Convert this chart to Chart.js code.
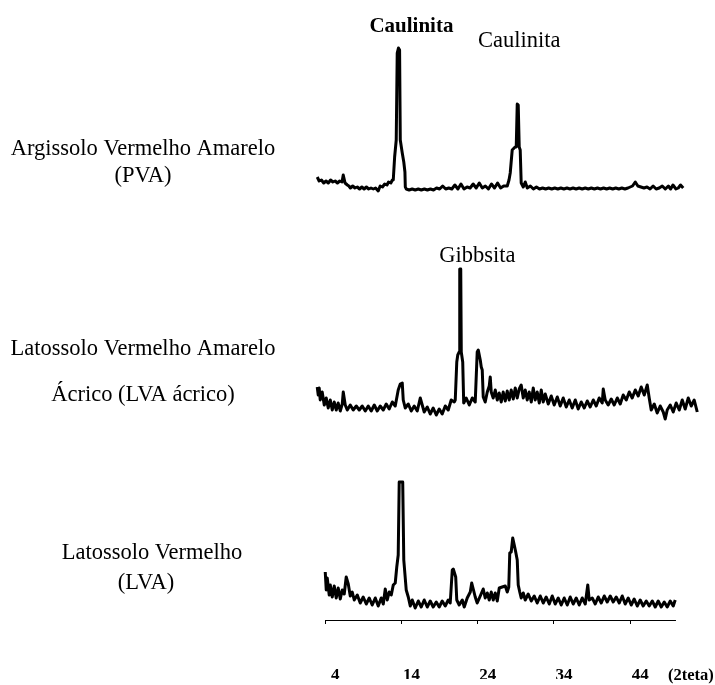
<!DOCTYPE html>
<html>
<head>
<meta charset="utf-8">
<script src="https://cdn.jsdelivr.net/npm/chart.js@4.4.1/dist/chart.umd.min.js"></script>
<style>
  body { margin: 0; background: #fff; }
  canvas { display: block; }
</style>
</head>
<body>
<canvas id="xrd" width="715" height="685"></canvas>
<script>
// Diffractograms: 2theta positions and relative counts per sample
const pvaTheta = [
  2.95, 3.2, 3.5, 3.8, 4.1, 4.4, 4.7, 5.0, 5.3, 5.6,
  5.9, 6.2, 6.36, 6.6, 6.9, 7.1, 7.3, 7.6, 7.9, 8.2,
  8.5, 8.8, 9.1, 9.4, 9.7, 10.0, 10.3, 10.6, 10.95, 11.2,
  11.5, 11.8, 12.1, 12.3, 12.6, 12.8, 12.92, 13.1, 13.31, 13.44,
  13.6, 13.75, 13.84, 14.1, 14.3, 14.45, 14.5, 14.62, 15.0, 15.4,
  15.8, 16.2, 16.6, 17.0, 17.4, 17.8, 18.2, 18.6, 19.0, 19.4,
  19.8, 20.2, 20.6, 21.0, 21.4, 21.8, 22.2, 22.6, 23.0, 23.4,
  23.8, 24.2, 24.6, 25.0, 25.4, 25.8, 26.2, 26.6, 27.0, 27.4,
  27.87, 28.1, 28.26, 28.52, 28.9, 29.05, 29.18, 29.31, 29.44, 29.57,
  29.7, 29.97, 30.23, 30.5, 30.9, 31.3, 31.7, 32.1, 32.5, 32.9,
  33.3, 33.7, 34.1, 34.5, 34.9, 35.3, 35.7, 36.1, 36.5, 36.9,
  37.3, 37.7, 38.1, 38.5, 38.9, 39.3, 39.7, 40.1, 40.5, 40.9,
  41.3, 41.7, 42.1, 42.5, 42.9, 43.3, 43.7, 44.0, 44.3, 44.66,
  45.0, 45.4, 45.8, 46.2, 46.6, 47.0, 47.4, 47.8, 48.2, 48.6,
  49.0, 49.3, 49.6, 50.0, 50.3, 50.6, 50.95
];
const pvaCounts = [
  15, 11, 12, 9, 11, 9, 12, 10, 11, 9,
  11, 10, 17, 9, 7, 6, 4, 6, 4, 5,
  3, 5, 3, 5, 3, 4, 3, 4, 1, 6,
  5, 8, 7, 10, 9, 12, 12, 35, 52, 139,
  144, 142, 52, 39, 30, 20, 5, 3, 2, 3,
  2, 3, 2, 3, 2, 3, 2, 4, 3, 6,
  3, 4, 3, 7, 3, 8, 3, 5, 4, 8,
  4, 9, 4, 6, 3, 8, 4, 9, 4, 6,
  6, 12, 19, 42, 45, 45, 88, 87, 45, 42,
  9, 5, 10, 4, 6, 3, 5, 3, 4, 3,
  4, 3, 4, 3, 4, 3, 4, 3, 4, 3,
  4, 3, 4, 3, 4, 3, 4, 3, 4, 3,
  4, 3, 4, 3, 4, 3, 4, 5, 6, 10,
  6, 5, 4, 5, 3, 6, 3, 4, 6, 3,
  6, 3, 7, 3, 4, 7, 4
];

const acricoTheta = [
  2.95, 3.08, 3.21, 3.34, 3.6, 3.87, 4.13, 4.39, 4.66, 4.92,
  5.18, 5.44, 5.7, 5.97, 6.23, 6.36, 6.62, 6.89, 7.28, 7.67,
  8.07, 8.46, 8.85, 9.25, 9.64, 10.03, 10.43, 10.82, 11.21, 11.61,
  12.0, 12.39, 12.79, 13.18, 13.57, 13.84, 14.1, 14.23, 14.49, 14.89,
  15.28, 15.67, 16.07, 16.46, 16.72, 16.98, 17.38, 17.77, 18.16, 18.56,
  18.95, 19.34, 19.74, 20.13, 20.52, 20.92, 21.05, 21.25, 21.38, 21.57,
  21.64, 21.77, 21.84, 22.03, 22.16, 22.49, 22.89, 23.28, 23.67, 23.93,
  24.07, 24.33, 24.46, 24.59, 24.72, 24.98, 25.25, 25.51, 25.64, 25.77,
  26.03, 26.3, 26.56, 26.82, 27.08, 27.34, 27.61, 27.87, 28.13, 28.39,
  28.66, 28.92, 29.18, 29.44, 29.7, 29.97, 30.23, 30.49, 30.75, 31.02,
  31.28, 31.54, 31.8, 32.07, 32.33, 32.59, 32.85, 33.25, 33.64, 34.03,
  34.43, 34.82, 35.21, 35.61, 36.0, 36.39, 36.79, 37.18, 37.57, 37.97,
  38.36, 38.75, 39.15, 39.54, 39.93, 40.33, 40.46, 40.72, 41.11, 41.51,
  41.9, 42.3, 42.69, 43.08, 43.48, 43.87, 44.26, 44.66, 45.05, 45.44,
  45.84, 46.23, 46.49, 46.75, 47.15, 47.54, 47.93, 48.33, 48.59, 48.85,
  49.25, 49.64, 50.03, 50.43, 50.82, 51.21, 51.61, 52.0, 52.39, 52.79
];
const acricoCounts = [
  33, 25, 32, 20, 28, 15, 22, 12, 20, 10,
  18, 10, 17, 9, 16, 28, 15, 10, 15, 10,
  14, 10, 14, 9, 14, 9, 15, 9, 14, 10,
  16, 11, 18, 14, 30, 36, 37, 20, 12, 16,
  9, 14, 9, 22, 15, 8, 13, 6, 12, 5,
  11, 6, 14, 10, 20, 18, 20, 58, 65, 68,
  151, 151, 68, 58, 17, 22, 15, 22, 18, 68,
  70, 60, 53, 50, 23, 18, 28, 34, 43, 28,
  22, 30, 20, 27, 18, 28, 19, 29, 20, 30,
  21, 32, 22, 31, 35, 22, 30, 20, 28, 18,
  32, 20, 28, 17, 30, 18, 26, 16, 24, 15,
  23, 14, 22, 13, 20, 12, 20, 11, 18, 12,
  19, 13, 20, 14, 22, 17, 31, 20, 15, 21,
  15, 22, 16, 25, 20, 28, 22, 30, 24, 33,
  25, 35, 22, 10, 16, 7, 14, 8, 1, 10,
  15, 8, 17, 10, 20, 11, 22, 14, 20, 8
];

const lvaTheta = [
  4.0, 4.13, 4.26, 4.52, 4.66, 4.92, 5.18, 5.44, 5.7, 5.97,
  6.23, 6.49, 6.75, 7.02, 7.28, 7.54, 7.8, 8.2, 8.59, 8.98,
  9.38, 9.77, 10.16, 10.56, 10.95, 11.34, 11.61, 11.87, 12.13, 12.39,
  12.66, 12.92, 13.18, 13.38, 13.57, 13.7, 14.16, 14.3, 14.62, 14.89,
  15.15, 15.41, 15.8, 16.2, 16.59, 16.98, 17.38, 17.77, 18.16, 18.56,
  18.95, 19.34, 19.74, 20.13, 20.39, 20.66, 20.79, 21.11, 21.25, 21.57,
  21.97, 22.23, 22.62, 23.02, 23.21, 23.41, 23.67, 23.93, 24.33, 24.72,
  24.98, 25.25, 25.51, 25.77, 26.03, 26.3, 26.56, 26.82, 27.21, 27.61,
  27.87, 28.07, 28.2, 28.39, 28.59, 28.79, 28.98, 29.18, 29.31, 29.51,
  29.7, 29.97, 30.23, 30.62, 31.02, 31.41, 31.8, 32.2, 32.59, 32.98,
  33.38, 33.77, 34.16, 34.56, 34.95, 35.34, 35.74, 36.13, 36.52, 36.92,
  37.31, 37.7, 38.1, 38.43, 38.62, 39.02, 39.41, 39.8, 40.2, 40.59,
  40.98, 41.38, 41.77, 42.16, 42.56, 42.95, 43.34, 43.74, 44.13, 44.52,
  44.92, 45.31, 45.7, 46.1, 46.49, 46.89, 47.28, 47.67, 48.07, 48.46,
  48.85, 49.25, 49.64, 49.9
];
const lvaCounts = [
  38, 20, 32, 15, 25, 13, 24, 12, 22, 11,
  20, 16, 33, 26, 14, 18, 10, 15, 7, 13,
  6, 12, 5, 12, 4, 12, 6, 21, 10, 18,
  15, 25, 27, 43, 55, 128, 128, 50, 20, 13,
  4, 10, 2, 9, 3, 10, 3, 9, 3, 8,
  3, 9, 4, 10, 7, 40, 41, 33, 10, 5,
  10, 3, 12, 18, 27, 21, 13, 7, 14, 21,
  12, 17, 10, 18, 10, 17, 9, 22, 23, 24,
  18, 23, 57, 58, 72, 65, 58, 50, 25, 18,
  12, 17, 10, 16, 9, 14, 7, 14, 7, 13,
  6, 14, 6, 12, 5, 12, 5, 13, 6, 12,
  5, 12, 6, 25, 10, 12, 6, 13, 7, 14,
  8, 14, 8, 13, 7, 14, 6, 12, 5, 11,
  4, 10, 4, 9, 4, 9, 3, 9, 3, 8,
  3, 9, 4, 10
];

// Axis and labels
const tickValues = [4, 14, 24, 34, 44];
const axisEnd = 50;
const axisUnit = '(2teta)';
const sampleNames = [
  ['Argissolo Vermelho Amarelo', '(PVA)'],
  ['Latossolo Vermelho Amarelo', 'Ácrico (LVA ácrico)'],
  ['Latossolo Vermelho', '(LVA)']
];
const peakNames = ['Caulinita', 'Caulinita', 'Gibbsita'];
const peakTheta = [15.3, 29.45, 23.95];
const peakCounts = [160, 145, 158];
const peakPanel = ['yPva', 'yPva', 'yAcrico'];

const serif = "'Liberation Serif', 'Times New Roman', serif";
Chart.defaults.font.family = serif;
Chart.defaults.color = '#000';

function trace(theta, counts, axisId) {
  return {
    data: theta.map((t, i) => ({ x: t, y: counts[i] })),
    yAxisID: axisId,
    borderColor: '#000',
    borderWidth: 3,
    borderJoinStyle: 'round',
    pointRadius: 0,
    tension: 0,
    fill: false
  };
}

// Axis line over the measured range, unit label, peak and sample names
const decorations = {
  id: 'decorations',
  afterDraw(chart) {
    const { ctx, scales, chartArea } = chart;
    const x = scales.x;
    ctx.save();
    ctx.strokeStyle = '#000';
    ctx.lineWidth = 1;
    ctx.beginPath();
    ctx.moveTo(x.getPixelForValue(tickValues[0]), chartArea.bottom + 0.5);
    ctx.lineTo(x.getPixelForValue(axisEnd), chartArea.bottom + 0.5);
    ctx.stroke();

    ctx.fillStyle = '#000';
    ctx.textBaseline = 'alphabetic';
    ctx.font = 'bold 16.5px ' + serif;
    ctx.textAlign = 'left';
    ctx.fillText(axisUnit, x.getPixelForValue(axisEnd) - 8, 680);

    ctx.textAlign = 'center';
    peakNames.forEach((name, i) => {
      // the first label is set in bold in the original figure
      ctx.font = (i === 0 ? 'bold 21px ' : '22.5px ') + serif;
      ctx.fillText(name, x.getPixelForValue(peakTheta[i]), scales[peakPanel[i]].getPixelForValue(peakCounts[i]));
    });

    ctx.font = '22.5px ' + serif;
    const rows = [[[143, 155], [143, 182]], [[143, 355], [143, 401]], [[152, 559], [146, 589]]];
    sampleNames.forEach((lines, i) => {
      lines.forEach((line, j) => ctx.fillText(line, rows[i][j][0], rows[i][j][1]));
    });
    ctx.restore();
  }
};

new Chart(document.getElementById('xrd'), {
  type: 'line',
  data: {
    datasets: [
      trace(pvaTheta, pvaCounts, 'yPva'),
      trace(acricoTheta, acricoCounts, 'yAcrico'),
      trace(lvaTheta, lvaCounts, 'yLva')
    ]
  },
  options: {
    responsive: false,
    animation: false,
    layout: { padding: { left: 310, right: 15, top: 0, bottom: 6 } },
    plugins: { legend: { display: false }, tooltip: { enabled: false } },
    scales: {
      x: {
        type: 'linear',
        min: 2,
        max: 53.15,
        afterBuildTicks: (scale) => { scale.ticks = tickValues.map(v => ({ value: v })); },
        afterFit: (scale) => { scale.height = 59; },
        grid: { drawOnChartArea: false, color: '#000', tickLength: 4 },
        border: { display: false },
        ticks: { padding: 41, labelOffset: 10, font: { size: 17, weight: 'bold' }, maxRotation: 0, autoSkip: false }
      },
      yPva: { display: false, min: -428, max: 192 },
      yAcrico: { display: false, min: -200, max: 420 },
      yLva: { display: false, min: -10, max: 610 }
    }
  },
  plugins: [decorations]
});
</script>
</body>
</html>
